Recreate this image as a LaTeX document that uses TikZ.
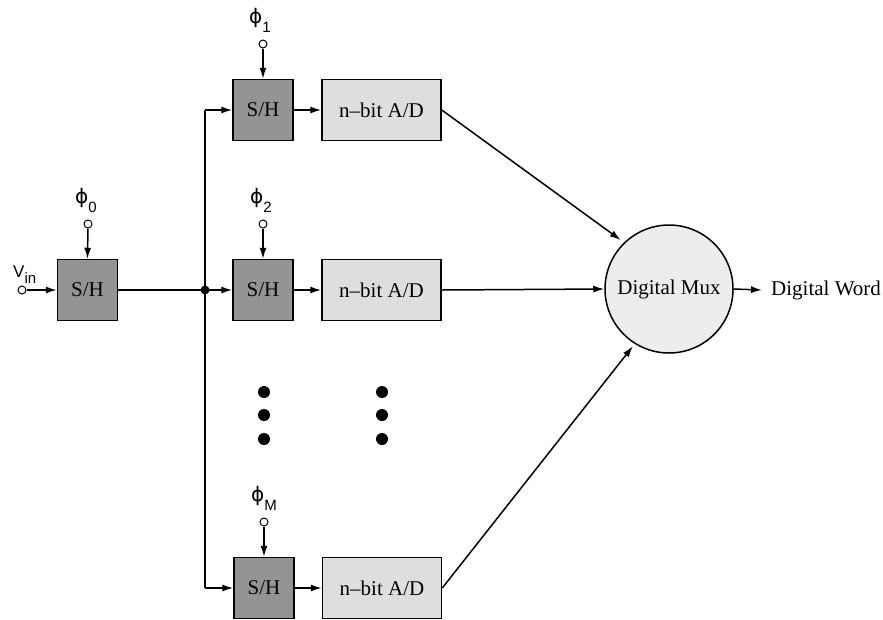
\documentclass[tikz,border=0pt]{standalone}
\usepackage{fontspec}
\setmainfont{Liberation Serif}
\setsansfont{Liberation Sans}
\newfontfamily\phifont{DejaVu Sans}
\usetikzlibrary{arrows.meta}

\tikzset{
  shbox/.style={draw, line width=1.5pt, fill=black!42, minimum width=60pt, minimum height=61pt, inner sep=0pt, font=\fontsize{21}{24}\selectfont},
  adbox/.style={draw, line width=1.5pt, fill=black!13, minimum width=119pt, minimum height=61pt, inner sep=0pt, font=\fontsize{21}{24}\selectfont},
  clk/.style={circle, draw, line width=1pt, fill=white, minimum size=8pt, inner sep=0pt},
  philbl/.style={anchor=base west, inner sep=0pt, font=\sffamily\fontsize{17}{18}\selectfont},
  wire/.style={line width=1.5pt},
  arr/.style={wire, -{Latex[length=11pt,width=7pt]}},
  bigdot/.style={circle, fill=black, minimum size=12pt, inner sep=0pt},
}

\begin{document}
\begin{tikzpicture}[x=1pt, y=-1pt]
		%%%%% frame %%%%%
		\useasboundingbox (0, 0) rectangle (883, 619);
		
		%%%%% input stage %%%%%
		\node[clk] (vin) at (22, 290) {};
		\node[philbl] (vinlbl) at (13, 277) {V\raisebox{-6pt}{\fontsize{15}{15}\selectfont in}};
		\node[shbox] (sh0) at (87.5, 290) {S/H};
		\node[clk] (c0) at (88, 224) {};
		\node[philbl] (p0) at (75, 203) {{\phifont\fontsize{20}{20}\selectfont ϕ}\raisebox{-9pt}{\fontsize{15}{15}\selectfont 0}};
		\draw[arr] (vin) -- (sh0.west);
		\draw[arr] (c0) -- (sh0.north);
		
		%%%%% channels %%%%%
		\node[shbox] (sh1) at (263, 110) {S/H};
		\node[adbox] (ad1) at (381.5, 110) {n--bit A/D};
		\node[clk] (c1) at (263, 44) {};
		\node[philbl] (p1) at (249, 23) {{\phifont\fontsize{20}{20}\selectfont ϕ}\raisebox{-9pt}{\fontsize{15}{15}\selectfont 1}};
		
		\node[shbox] (sh2) at (263, 290) {S/H};
		\node[adbox] (ad2) at (381.5, 290) {n--bit A/D};
		\node[clk] (c2) at (263, 224) {};
		\node[philbl] (p2) at (250, 203) {{\phifont\fontsize{20}{20}\selectfont ϕ}\raisebox{-9pt}{\fontsize{15}{15}\selectfont 2}};
		
		\node[shbox] (sh3) at (264, 588) {S/H};
		\node[adbox] (ad3) at (382, 588) {n--bit A/D};
		\node[clk] (c3) at (264, 522) {};
		\node[philbl] (p3) at (251, 501) {{\phifont\fontsize{20}{20}\selectfont ϕ}\raisebox{-9pt}{\fontsize{15}{15}\selectfont M}};
		
		\draw[arr] (c1) -- (sh1.north);
		\draw[arr] (c2) -- (sh2.north);
		\draw[arr] (c3) -- (sh3.north);
		\draw[arr] (sh1) -- (ad1);
		\draw[arr] (sh2) -- (ad2);
		\draw[arr] (sh3) -- (ad3);
		
		%%%%% fan-out bus %%%%%
		\coordinate (b1) at (205, 110);
		\coordinate (b3) at (205, 588);
		\node[circle, fill=black, minimum size=9pt, inner sep=0pt] (jn) at (205, 290) {};
		\draw[wire] (sh0.east) -- (jn.center);
		\draw[wire] (b1) -- (b3);
		\draw[arr] (b1) -- (sh1.west);
		\draw[arr] (jn.center) -- (sh2.west);
		\draw[arr] (b3) -- (sh3.west);
		
		%%%%% dots %%%%%
		\node[bigdot] (d1) at (264, 392) {};
		\node[bigdot] (d2) at (264, 415) {};
		\node[bigdot] (d3) at (264, 439) {};
		\node[bigdot] (d4) at (382, 392) {};
		\node[bigdot] (d5) at (382, 415) {};
		\node[bigdot] (d6) at (382, 439) {};
		
		%%%%% mux %%%%%
		\node[circle, draw, line width=1.5pt, fill=black!7, minimum size=128pt, inner sep=0pt, font=\fontsize{21}{24}\selectfont] (mux) at (669, 289) {Digital Mux};
		\node[anchor=west, inner xsep=9pt, inner ysep=2pt, font=\fontsize{21}{24}\selectfont] (dw) at (762, 290) {Digital Word};
		\draw[arr, shorten >=4pt] (ad1.east) -- (mux.134);
		\draw[arr] (ad2.east) -- (mux.west);
		\draw[arr, shorten >=3pt] (ad3.east) -- (mux.238);
		\draw[arr] (mux.east) -- (dw.west);
		
	\end{tikzpicture}
\end{document}
